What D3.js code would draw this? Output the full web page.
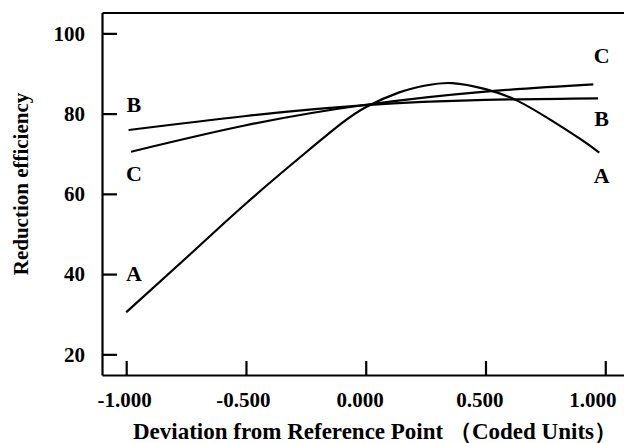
<!DOCTYPE html>
<html>
<head>
<meta charset="utf-8">
<script src="https://cdn.jsdelivr.net/npm/d3@7"></script>
<style>
  body { margin: 0; background: #fff; }
  svg { display: block; }
  text { font-family: "Liberation Serif", "Times New Roman", serif; font-weight: bold; fill: #000; }
</style>
</head>
<body>
<div id="chart"></div>
<script>
// factor curves (coded units vs reduction efficiency)
const xA = [-1, -0.75, -0.5, -0.25, -0.1, 0, 0.14, 0.25, 0.36, 0.5, 0.63, 0.77, 0.9, 0.975];
const valuesA = [30.5, 44, 57.6, 70.3, 77.6, 81.6, 85.3, 87.0, 87.6, 86.1, 83.3, 78.5, 73.5, 70.3];
const xB = [-0.99, -0.5, 0, 0.5, 0.97];
const valuesB = [75.9, 79.4, 82.1, 83.4, 83.8];
const xC = [-0.98, -0.5, 0, 0.5, 0.95];
const valuesC = [70.5, 77.1, 82.2, 85.5, 87.3];

const xTicks = [-1, -0.5, 0, 0.5, 1];
const xTickLabels = ["-1.000", "-0.500", "0.000", "0.500", "1.000"];
const xLabelShift = [-2, -3, -6, -6, -13];
const yTicks = [20, 40, 60, 80, 100];

// curve labels at both ends
const labelNames = ["B", "C", "A", "C", "B", "A"];
const labelX = [-0.968, -0.968, -0.968, 0.985, 0.985, 0.985];
const labelY = [80.5, 63.1, 38.2, 92.6, 76.9, 62.7];

const width = 624, height = 443;
const svg = d3.select("#chart").append("svg")
  .attr("width", width)
  .attr("height", height);

const x = d3.scaleLinear().domain([-1.101, 1.145]).range([102, 640]);
const y = d3.scaleLinear().domain([14.85, 105.2]).range([375, 12.5]);

// left axis, ticks pointing inward
const yAxis = svg.append("g")
  .attr("transform", `translate(${x(-1.101)},0)`)
  .call(d3.axisLeft(y).tickValues(yTicks).tickSizeInner(-15).tickSizeOuter(0).tickPadding(17));

// bottom axis, ticks pointing up
const xAxis = svg.append("g")
  .attr("transform", `translate(0,${y(14.85)})`)
  .call(d3.axisBottom(x).tickValues(xTicks).tickFormat((d, i) => xTickLabels[i])
    .tickSizeInner(-14).tickSizeOuter(0).tickPadding(17));

// top frame line
svg.append("g")
  .attr("transform", `translate(0,${y(105.2)})`)
  .call(d3.axisTop(x).tickValues([]).tickSizeOuter(0));

svg.selectAll(".domain, .tick line")
  .attr("stroke", "#000")
  .attr("stroke-width", 2.2);

yAxis.selectAll(".tick text").style("font-size", "21px").attr("font-family", null);
xAxis.selectAll(".tick text").style("font-size", "21px").attr("font-family", null)
  .attr("dx", (d, i) => xLabelShift[i]);

// curves
const line = d3.line()
  .x(d => x(d[0]))
  .y(d => y(d[1]))
  .curve(d3.curveNatural);

const series = [
  d3.zip(xA, valuesA),
  d3.zip(xB, valuesB),
  d3.zip(xC, valuesC)
];

svg.selectAll(".curve")
  .data(series)
  .enter()
  .append("path")
  .attr("class", "curve")
  .attr("d", line)
  .attr("fill", "none")
  .attr("stroke", "#000")
  .attr("stroke-width", 2.2);

svg.selectAll(".lbl")
  .data(labelNames)
  .enter()
  .append("text")
  .attr("class", "lbl")
  .attr("x", (d, i) => x(labelX[i]))
  .attr("y", (d, i) => y(labelY[i]))
  .attr("text-anchor", "middle")
  .style("font-size", "22px")
  .text(d => d);

// axis titles
svg.append("text")
  .attr("x", 133)
  .attr("y", 439)
  .attr("text-anchor", "start")
  .style("font-size", "23px")
  .text("Deviation from Reference Point （Coded Units）");

svg.append("text")
  .attr("transform", "translate(28,184) rotate(-90)")
  .attr("text-anchor", "middle")
  .style("font-size", "21px")
  .text("Reduction efficiency");
</script>
</body>
</html>
